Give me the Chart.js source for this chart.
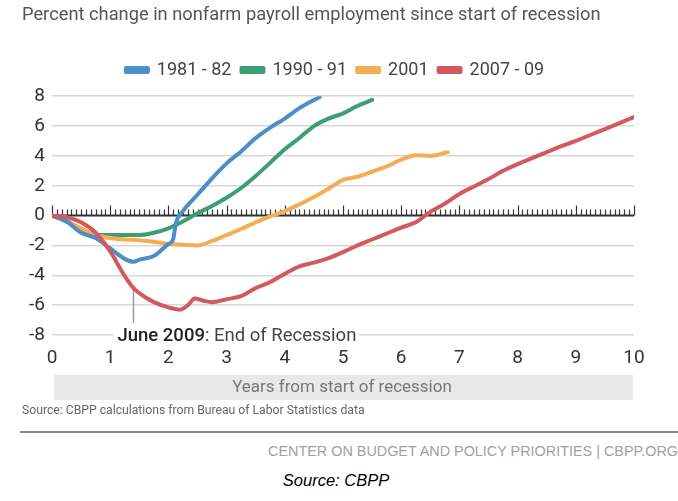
<!DOCTYPE html>
<html>
<head>
<meta charset="utf-8">
<title>Nonfarm payroll employment since start of recession</title>
<script src="https://cdn.jsdelivr.net/npm/chart.js@4.4.0/dist/chart.umd.min.js"></script>
<style>
    body {
        margin: 0;
        background: #fff;
        width: 678px;
        height: 501px;
        position: relative;
        overflow: hidden;
        font-family: Roboto, sans-serif;
    }
    #title { position: absolute; left: 22px; top: 2px; font-size: 19px; color: #555; white-space: nowrap; transform: scaleX(0.962); transform-origin: left top; }
    #wrap { position: absolute; left: 0; top: 0; width: 678px; height: 405px; }
    #source { position: absolute; left: 22px; top: 403px; font-size: 12.2px; color: #666; white-space: nowrap; }
    #rule { position: absolute; left: 20px; right: 0; top: 431px; height: 2px; background: #8a8a8a; }
    #org { position: absolute; right: 0; top: 443px; font-family: 'Liberation Sans', Arial, sans-serif; font-size: 14.4px; color: #a0a0a0; white-space: nowrap; }
    #credit { position: absolute; left: 0; width: 672px; top: 471px; text-align: center; font-family: 'Liberation Sans', Arial, sans-serif; font-style: italic; font-size: 16.5px; color: #000; }
</style>
</head>
<body>
<div id="wrap"><canvas id="payrollChart" width="678" height="405"></canvas></div>
<div id="title">Percent change in nonfarm payroll employment since start of recession</div>
<div id="source">Source: CBPP calculations from Bureau of Labor Statistics data</div>
<div id="rule"></div>
<div id="org">CENTER ON BUDGET AND POLICY PRIORITIES | CBPP.ORG</div>
<div id="credit">Source: CBPP</div>

<script>
// Values (years since start of recession, % change)
const blueYears = [0, 0.25, 0.5, 0.75, 1, 1.25, 1.4, 1.5, 1.75, 2, 2.08, 2.13, 2.25, 2.5, 2.75, 3, 3.25, 3.5, 3.75, 4, 4.25, 4.5, 4.6];
const blueValues = [0, -0.4, -1.15, -1.5, -2.2, -2.9, -3.1, -2.95, -2.7, -1.9, -1.6, -0.5, 0.3, 1.4, 2.5, 3.5, 4.3, 5.2, 5.9, 6.5, 7.2, 7.75, 7.95];

const greenYears = [0, 0.25, 0.5, 0.75, 1, 1.25, 1.5, 1.75, 2, 2.25, 2.5, 2.75, 3, 3.25, 3.5, 3.75, 4, 4.25, 4.5, 4.75, 5, 5.25, 5.5];
const greenValues = [0, -0.35, -0.9, -1.3, -1.3, -1.3, -1.3, -1.15, -0.85, -0.4, 0.15, 0.65, 1.2, 1.85, 2.65, 3.55, 4.45, 5.2, 6.0, 6.5, 6.85, 7.35, 7.75];

const orangeYears = [0, 0.25, 0.5, 0.75, 1, 1.25, 1.5, 1.75, 2, 2.25, 2.5, 2.75, 3, 3.25, 3.5, 3.75, 4, 4.25, 4.5, 4.75, 5, 5.25, 5.5, 5.75, 6, 6.25, 6.5, 6.8];
const orangeValues = [0, -0.4, -0.85, -1.3, -1.5, -1.6, -1.65, -1.75, -1.9, -1.95, -2.0, -1.7, -1.3, -0.9, -0.45, -0.05, 0.3, 0.75, 1.25, 1.8, 2.4, 2.6, 2.95, 3.3, 3.75, 4.05, 4.0, 4.25];

const redYears = [0, 0.25, 0.5, 0.75, 1, 1.25, 1.4, 1.5, 1.75, 2, 2.2, 2.35, 2.45, 2.6, 2.75, 3, 3.25, 3.5, 3.75, 4, 4.25, 4.5, 4.75, 5, 5.25, 5.5, 5.75, 6, 6.25, 6.5, 6.75, 7, 7.25, 7.5, 7.75, 8, 8.25, 8.5, 8.75, 9, 9.25, 9.5, 9.75, 10];
const redValues = [0, -0.1, -0.45, -1.15, -2.4, -4.05, -4.85, -5.2, -5.8, -6.15, -6.3, -5.95, -5.55, -5.7, -5.8, -5.6, -5.4, -4.85, -4.45, -3.9, -3.4, -3.15, -2.85, -2.45, -2.0, -1.6, -1.2, -0.8, -0.45, 0.25, 0.8, 1.45, 1.95, 2.45, 3.0, 3.45, 3.85, 4.25, 4.65, 5.0, 5.4, 5.8, 6.2, 6.6];

const seriesLabels = ['1981 - 82', '1990 - 91', '2001', '2007 - 09'];
const seriesColors = ['#4b8ec8', '#3c9f70', '#f5ad55', '#d25a5e'];
const yTicks = [-8, -6, -4, -2, 0, 2, 4, 6, 8];
const xTicks = [0, 1, 2, 3, 4, 5, 6, 7, 8, 9, 10];

// "June 2009: End of Recession" marker on the 2007-09 line
const recessionEnd = { x: 1.4, y: -4.85 };

const FONT = "Roboto, sans-serif";

function toPoints(xs, ys) {
    return xs.map((x, i) => ({ x: x, y: ys[i] }));
}

function makeDataset(i, xs, ys, order) {
    return {
        label: seriesLabels[i],
        data: toPoints(xs, ys),
        borderColor: seriesColors[i],
        backgroundColor: seriesColors[i],
        borderWidth: 4,
        pointRadius: 0,
        cubicInterpolationMode: 'monotone',
        borderCapStyle: 'round',
        borderJoinStyle: 'round',
        order: order
    };
}

// Zero axis with monthly ticks, annotation, and the shaded axis title band
const decorPlugin = {
    id: 'decor',
    afterLayout(chart) {
        // legend in the original sits a little right of the plot centre
        if (chart.legend) {
            chart.legend.left += 18;
            chart.legend.right += 18;
        }
    },
    beforeDatasetsDraw(chart) {
        const ctx = chart.ctx;
        const xs = chart.scales.x;
        const ys = chart.scales.y;
        const area = chart.chartArea;
        const y0 = ys.getPixelForValue(0);

        ctx.save();
        ctx.strokeStyle = '#333';
        ctx.lineWidth = 2;
        ctx.beginPath();
        ctx.moveTo(area.left, y0);
        ctx.lineTo(area.right, y0);
        ctx.stroke();

        ctx.lineWidth = 1.2;
        ctx.beginPath();
        for (let m = 0; m <= 120; m++) {
            const px = Math.round(xs.getPixelForValue(m / 12)) + 0.5;
            const len = m % 12 === 0 ? 10 : 6;
            ctx.moveTo(px, y0);
            ctx.lineTo(px, y0 - len);
        }
        ctx.stroke();

        // annotation label over the -8 gridline
        const ax = xs.getPixelForValue(recessionEnd.x);
        const yLow = ys.getPixelForValue(-8);
        const textX = ax - 16;
        const baseY = yLow + 6;

        ctx.font = '500 18.5px ' + FONT;
        const boldText = 'June 2009';
        const wBold = ctx.measureText(boldText).width;
        ctx.font = '18.5px ' + FONT;
        const restText = ': End of Recession';
        const wRest = ctx.measureText(restText).width;

        ctx.fillStyle = '#fff';
        ctx.fillRect(textX - 4, yLow - 4, wBold + wRest + 6, 8);

        ctx.strokeStyle = '#9a9a9a';
        ctx.lineWidth = 1.5;
        ctx.beginPath();
        ctx.moveTo(ax, ys.getPixelForValue(recessionEnd.y) + 2);
        ctx.lineTo(ax, yLow - 12);
        ctx.stroke();

        ctx.textBaseline = 'alphabetic';
        ctx.textAlign = 'left';
        ctx.font = '500 18.5px ' + FONT;
        ctx.fillStyle = '#222';
        ctx.fillText(boldText, textX, baseY);
        ctx.font = '18.5px ' + FONT;
        ctx.fillStyle = '#444';
        ctx.fillText(restText, textX + wBold, baseY);
        ctx.restore();
    },
    afterDraw(chart) {
        const ctx = chart.ctx;
        const area = chart.chartArea;
        const top = area.bottom + 40;

        ctx.save();
        ctx.fillStyle = '#e8e8e8';
        ctx.fillRect(area.left + 2, top, area.right - area.left - 3, 25);
        ctx.fillStyle = '#777';
        ctx.font = '17px ' + FONT;
        ctx.textAlign = 'center';
        ctx.textBaseline = 'middle';
        ctx.fillText('Years from start of recession', (area.left + area.right) / 2 - 1, top + 13);
        ctx.restore();
    }
};

document.addEventListener('DOMContentLoaded', function() {
    const ctx = document.getElementById('payrollChart').getContext('2d');

    new Chart(ctx, {
        type: 'line',
        data: {
            datasets: [
                makeDataset(0, blueYears, blueValues, 1),
                makeDataset(1, greenYears, greenValues, 3),
                makeDataset(2, orangeYears, orangeValues, 2),
                makeDataset(3, redYears, redValues, 0)
            ]
        },
        options: {
            responsive: false,
            animation: false,
            layout: {
                padding: { top: 51, right: 44, left: 0, bottom: 0 }
            },
            plugins: {
                legend: {
                    position: 'top',
                    weight: 1000,
                    labels: {
                        boxWidth: 22,
                        boxHeight: 4,
                        padding: 10,
                        color: '#444',
                        font: { family: FONT, size: 18 },
                        sort: (a, b) => a.datasetIndex - b.datasetIndex
                    }
                },
                // empty spacer between the legend and the plot
                subtitle: {
                    display: true,
                    text: ' ',
                    position: 'top',
                    weight: 500,
                    padding: 0,
                    font: { size: 6 }
                },
                tooltip: { enabled: false }
            },
            scales: {
                x: {
                    type: 'linear',
                    min: 0,
                    max: 10,
                    afterBuildTicks: scale => { scale.ticks = xTicks.map(v => ({ value: v })); },
                    ticks: {
                        color: '#333',
                        font: { family: FONT, size: 19 },
                        padding: 12,
                        maxRotation: 0
                    },
                    grid: { display: false, drawTicks: false },
                    border: { display: false },
                    afterFit: scale => { scale.height = 70; }
                },
                y: {
                    min: -8,
                    max: 8,
                    afterBuildTicks: scale => { scale.ticks = yTicks.map(v => ({ value: v })); },
                    ticks: {
                        color: '#333',
                        font: { family: FONT, size: 19 },
                        padding: 7
                    },
                    grid: {
                        color: c => (c.tick && c.tick.value === 0) ? 'rgba(0,0,0,0)' : '#d8d8d8',
                        lineWidth: 1.5,
                        drawTicks: false
                    },
                    border: { display: false },
                    afterFit: scale => { scale.width = 52; }
                }
            }
        },
        plugins: [decorPlugin]
    });
});
</script>
</body>
</html>
